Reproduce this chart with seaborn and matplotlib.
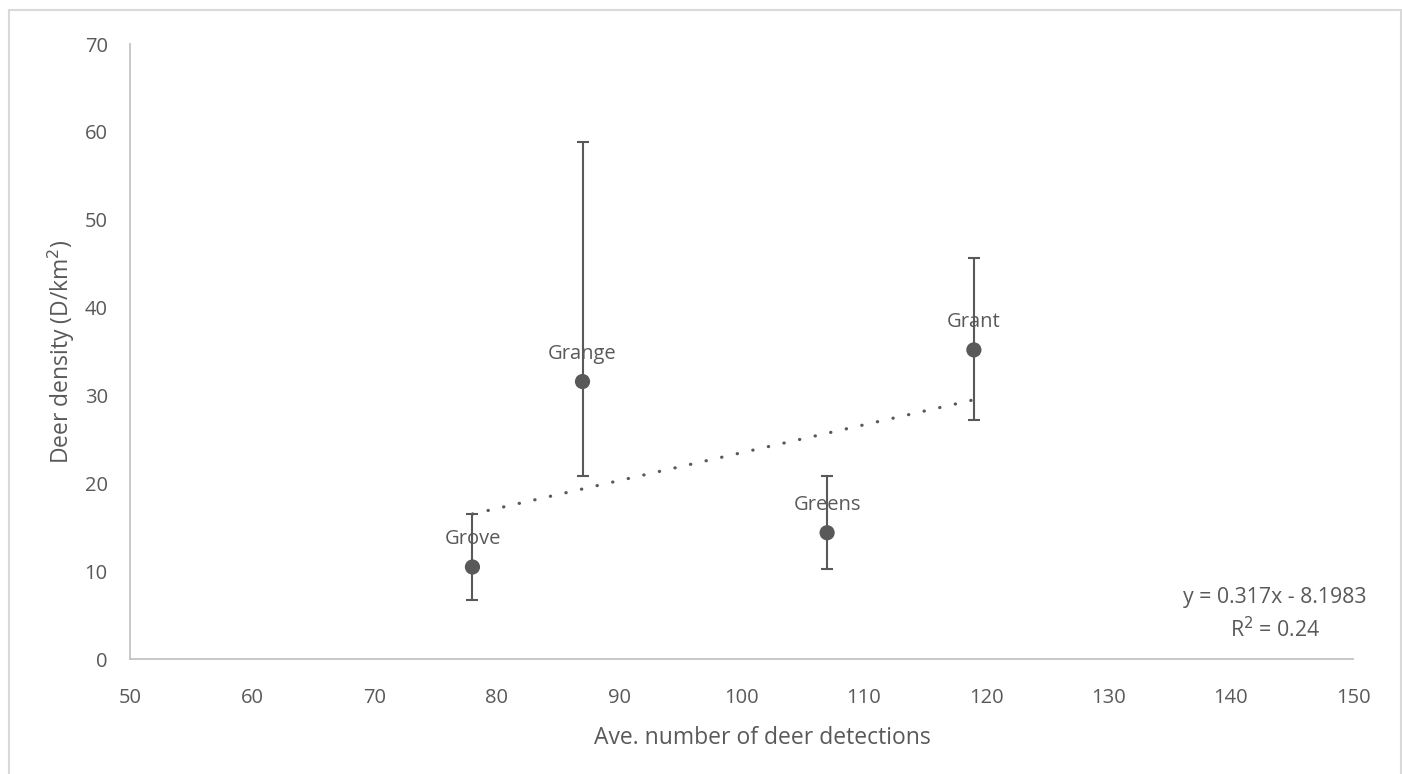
import matplotlib
matplotlib.use("Agg")
import matplotlib.pyplot as plt
from matplotlib.patches import Rectangle
import numpy as np
import pandas as pd
import seaborn as sns

# ---- data ----
sites = ["Grove", "Grange", "Greens", "Grant"]
detections = [78, 87, 107, 119]
density = [10.5, 31.6, 14.4, 35.2]
density_low = [6.7, 20.9, 10.3, 27.2]
density_high = [16.5, 58.9, 20.9, 45.7]
trend_slope = 0.317
trend_intercept = -8.1983
r_squared = 0.24
x_ticks = [50, 60, 70, 80, 90, 100, 110, 120, 130, 140, 150]
y_ticks = [0, 10, 20, 30, 40, 50, 60, 70]

sns.set_theme(style="white")
plt.rcParams["font.family"] = ["Open Sans", "DejaVu Sans"]

TEXT = "#595959"
MARK = "#595959"
AXIS = "#c4c4c4"
FS = 14.5
FS_TITLE = 16.5
FS_EQ = 15.3

df = pd.DataFrame({"site": sites, "x": detections, "y": density,
                   "lo": density_low, "hi": density_high})

fig = plt.figure(figsize=(14.02, 7.74), dpi=100)
ax = fig.add_axes([130 / 1402, 1 - 659.3 / 774, (1353 - 130) / 1402, (659.3 - 44) / 774])

# trend line
tx = np.array([min(detections), max(detections)], dtype=float)
trend_df = pd.DataFrame({"x": tx, "y": trend_slope * tx + trend_intercept})
sns.lineplot(data=trend_df, x="x", y="y", ax=ax, color=MARK, linewidth=2.3,
             linestyle=(0, (0.1, 4.9)), dash_capstyle="round", zorder=2)

# error bars
yerr = np.array([df["y"] - df["lo"], df["hi"] - df["y"]])
ax.errorbar(df["x"], df["y"], yerr=yerr, fmt="none", ecolor=MARK,
            elinewidth=1.5, capsize=4.3, capthick=1.5, zorder=3)

# points
sns.scatterplot(data=df, x="x", y="y", ax=ax, color=MARK, s=120,
                edgecolor="none", zorder=4, legend=False)

# point labels
for _, r in df.iterrows():
    ax.annotate(r["site"], (r["x"], r["y"]), xytext=(0, 20),
                textcoords="offset points", ha="center", va="center",
                fontsize=FS, color=TEXT, zorder=5)

# trend equation
ax.text((1275 - 130) / 1223, (659.3 - 615) / 615.3,
        f"y = {trend_slope}x - {abs(trend_intercept)}\nR$^2$ = {r_squared}",
        transform=ax.transAxes, ha="center", va="center", fontsize=FS_EQ,
        color=TEXT, linespacing=1.45)

ax.set_xlim(50, 150)
ax.set_ylim(0, 70)
ax.set_xticks(x_ticks)
ax.set_yticks(y_ticks)
ax.tick_params(axis="both", length=0, labelsize=FS, labelcolor=TEXT)
ax.tick_params(axis="y", pad=16)
ax.tick_params(axis="x", pad=20.5)

for side in ["top", "right"]:
    ax.spines[side].set_visible(False)
for side in ["left", "bottom"]:
    ax.spines[side].set_color(AXIS)
    ax.spines[side].set_linewidth(1.3)

ax.set_xlabel("Ave. number of deer detections", fontsize=FS_TITLE, color=TEXT)
ax.set_ylabel("Deer density (D/km$^2$)", fontsize=FS_TITLE, color=TEXT)
ax.xaxis.set_label_coords((762 - 130) / 1223, (659.3 - 726) / 615.3)
ax.yaxis.set_label_coords((77 - 130) / 1223, 0.5)

# chart border
fig.add_artist(Rectangle((8.5 / 1402, -0.02), (1400.5 - 8.5) / 1402, 1.02 - 10 / 774,
                         transform=fig.transFigure, fill=False,
                         edgecolor="#d9d9d9", linewidth=1.5))

fig.savefig("out.png", dpi=100)
